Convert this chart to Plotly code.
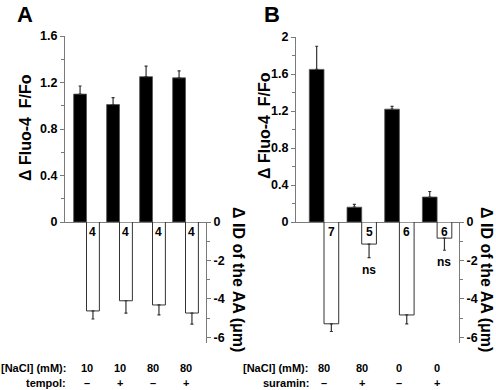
import plotly.graph_objects as go

# ---------------- data ----------------
groups = [0, 1, 2, 3]

a_fluo = [1.10, 1.01, 1.25, 1.24]
a_fluo_err = [0.07, 0.06, 0.09, 0.06]
a_id = [-4.63, -4.10, -4.32, -4.74]
a_id_err = [0.42, 0.64, 0.52, 0.58]
a_n = ["4", "4", "4", "4"]
a_nacl = ["10", "10", "80", "80"]
a_drug = ["\u2013", "+", "\u2013", "+"]

b_fluo = [1.65, 0.16, 1.22, 0.27]
b_fluo_err = [0.25, 0.03, 0.03, 0.06]
b_id = [-5.30, -1.15, -4.84, -0.84]
b_id_err = [0.40, 0.70, 0.46, 0.63]
b_n = ["7", "5", "6", "6"]
b_sig = ["", "ns", "", "ns"]
b_nacl = ["80", "80", "0", "0"]
b_drug = ["\u2013", "+", "\u2013", "+"]

left_title = "\u0394 Fluo-4\u00a0\u00a0F/Fo"
right_title = "\u0394 ID of the AA (\u03bcm)"

# ---------------- style ----------------
W, H = 496, 390
FONT = "Liberation Sans, Arial, sans-serif"
AX = "#7a7a7a"
BW = 0.39


def px(x):
    return x / W


def py(y):
    return 1 - y / H


fig = go.Figure()


def add_panel(xa, yl, yr, fluo, ferr, idv, ierr):
    fig.add_trace(go.Bar(
        x=groups, y=fluo, xaxis=xa, yaxis=yl, width=BW, offset=-BW,
        marker=dict(color="black", line=dict(color="#555", width=0.8)),
        error_y=dict(type="data", symmetric=False, array=ferr,
                     arrayminus=[0] * len(ferr), color="#333",
                     thickness=1.2, width=1.5),
        showlegend=False, hoverinfo="skip"))
    fig.add_trace(go.Bar(
        x=groups, y=idv, xaxis=xa, yaxis=yr, width=BW, offset=0,
        marker=dict(color="white", line=dict(color="#333", width=1)),
        error_y=dict(type="data", symmetric=False, array=[0] * len(ierr),
                     arrayminus=ierr, color="#333", thickness=1.2, width=1.5),
        showlegend=False, hoverinfo="skip"))


add_panel("x", "y", "y2", a_fluo, a_fluo_err, a_id, a_id_err)
add_panel("x2", "y3", "y4", b_fluo, b_fluo_err, b_id, b_id_err)

tickfont = dict(family=FONT, size=12.5, color="black")


def bl(v):
    return ["<b>%s</b>" % s for s in v]


xcommon = dict(showline=True, linecolor=AX, linewidth=1, ticks="",
               showticklabels=False, showgrid=False, zeroline=False,
               fixedrange=True, automargin=False)
ycommon = dict(showline=True, linecolor=AX, linewidth=1, ticks="outside",
               ticklen=4, tickcolor=AX, tickfont=tickfont, showgrid=False,
               zeroline=False, fixedrange=True, automargin=False)

zero_y = py(222)
fig.update_layout(
    width=W, height=H, margin=dict(l=0, r=0, t=0, b=0, pad=0, autoexpand=False),
    autosize=False,
    plot_bgcolor="white", paper_bgcolor="white", barmode="overlay",
    font=dict(family=FONT, color="black"),
    xaxis=dict(domain=[px(65), px(206)], range=[-0.652, 3.621],
               anchor="y", **xcommon),
    xaxis2=dict(domain=[px(296), px(459)], range=[-0.743, 3.581],
                anchor="y3", **xcommon),
    yaxis=dict(domain=[zero_y, py(36)], range=[0, 1.6], anchor="x",
               tickvals=[0, 0.4, 0.8, 1.2, 1.6],
               ticktext=bl(["0", "0.4", "0.8", "1.2", "1.6"]),
               minor=dict(tickvals=[0.2, 0.6, 1.0, 1.4], ticks="outside",
                          ticklen=3, tickcolor=AX),
               **ycommon),
    yaxis2=dict(domain=[py(343), zero_y], range=[-6.3, 0], anchor="x",
                side="right", tickvals=[0, -2, -4, -6],
                ticktext=bl(["0", "-2", "-4", "-6"]),
                minor=dict(tickvals=[-1, -3, -5], ticks="outside",
                           ticklen=3, tickcolor=AX),
                **ycommon),
    yaxis3=dict(domain=[zero_y, py(37)], range=[0, 2], anchor="x2",
                tickvals=[0, 0.4, 0.8, 1.2, 1.6, 2],
                ticktext=bl(["0", "0.4", "0.8", "1.2", "1.6", "2"]),
                minor=dict(tickvals=[0.2, 0.6, 1.0, 1.4, 1.8],
                           ticks="outside", ticklen=3, tickcolor=AX),
                **ycommon),
    yaxis4=dict(domain=[py(343), zero_y], range=[-6.3, 0], anchor="x2",
                side="right", tickvals=[0, -2, -4, -6],
                ticktext=bl(["0", "-2", "-4", "-6"]),
                minor=dict(tickvals=[-1, -3, -5], ticks="outside",
                           ticklen=3, tickcolor=AX),
                **ycommon),
)

ann = []


def t(text, x, y, size, xref="paper", yref="paper", **kw):
    d = dict(text="<b>%s</b>" % text, x=x, y=y, xref=xref, yref=yref,
             showarrow=False, xanchor="center", yanchor="middle",
             font=dict(size=size, family=FONT, color="black"))
    d.update(kw)
    ann.append(d)


# panel letters
t("A", px(25), py(15), 22)
t("B", px(272), py(15), 22)

# axis titles
t(left_title, px(26), py(128), 16, textangle=-90)
t(left_title, px(265), py(126), 16, textangle=-90)
t(right_title, px(239), py(279), 16, textangle=90)
t(right_title, px(487), py(279), 16, textangle=90)

# n labels inside white bars, ns labels
for i in groups:
    t(a_n[i], i + BW / 2, 0, 12, xref="x", yref="y2", yanchor="top",
      yshift=-1)
    t(b_n[i], i + BW / 2, 0, 12, xref="x2", yref="y4", yanchor="top",
      yshift=-1)
    if b_sig[i]:
        t(b_sig[i], i + BW / 2, b_id[i] - b_id_err[i], 12, xref="x2",
          yref="y4", yanchor="top", yshift=-3)

# table below
t("[NaCl] (mM):", px(68), py(368), 11, xanchor="right")
t("tempol:", px(68), py(383), 11, xanchor="right")
t("[NaCl] (mM):", px(310), py(368), 11, xanchor="right")
t("suramin:", px(311), py(383), 11, xanchor="right")
for i in groups:
    t(a_nacl[i], i, py(368), 11, xref="x")
    t(a_drug[i], i, py(383), 11, xref="x")
    t(b_nacl[i], i, py(368), 11, xref="x2")
    t(b_drug[i], i, py(383), 11, xref="x2")

fig.update_layout(annotations=ann)

fig.write_html("out.html", config={"displayModeBar": False},
               post_script="document.body.style.margin='0';")
